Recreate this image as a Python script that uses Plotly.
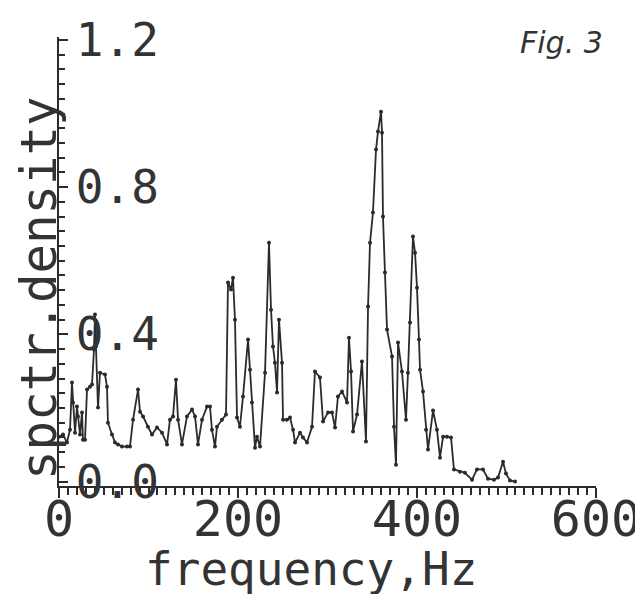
import plotly.graph_objects as go

# Frequency (Hz) and spectral density
frequency = [0, 4.5, 8.9, 12.3, 14.5, 15.6, 17.9, 20.1, 21.2, 23.5, 25.7, 26.8, 29.1, 31.3, 34.6,
             36.9, 39.1, 40.2, 41.3, 43.6, 45.8, 51.4, 53.6, 54.7, 59.2, 62.6, 65.9, 70.4, 76.0,
             79.3, 82.7, 88.3, 90.5, 93.9, 99.4, 103.9, 109.5, 115.1, 120.7, 124.0, 127.4, 130.7,
             133.0, 137.4, 143.0, 148.6, 152.0, 155.3, 159.8, 165.4, 168.7, 170.9, 174.3, 176.5,
             182.1, 186.6, 188.8, 192.2, 194.4, 196.6, 198.9, 202.2, 205.6, 211.2, 213.4, 215.6,
             219.0, 221.2, 224.6, 230.2, 234.6, 236.9, 239.1, 241.3, 243.6, 245.8, 249.2, 250.3,
             254.7, 258.1, 261.5, 263.7, 269.3, 272.6, 277.1, 282.7, 286.0, 291.6, 295.0, 300.6,
             305.0, 308.4, 311.7, 316.2, 321.8, 324.0, 326.3, 328.5, 333.0, 338.5, 343.0, 345.3,
             347.5, 350.8, 354.2, 356.4, 359.8, 360.9, 362.0, 364.2, 366.5, 372.1, 374.3, 376.5,
             378.8, 383.2, 387.7, 389.9, 392.2, 395.5, 397.8, 400.0, 402.2, 403.4, 406.7, 410.1,
             412.3, 417.9, 422.3, 425.7, 429.1, 433.5, 438.0, 441.3, 448.0, 453.6, 461.5, 467.0,
             473.7, 479.3, 486.0, 490.5, 496.1, 499.4, 503.9, 509.5]
density = [0.122, 0.128, 0.106, 0.141, 0.269, 0.215, 0.133, 0.204, 0.177, 0.128, 0.188, 0.114,
           0.114, 0.250, 0.258, 0.264, 0.359, 0.454, 0.367, 0.201, 0.296, 0.291, 0.258, 0.160,
           0.128, 0.106, 0.101, 0.095, 0.095, 0.095, 0.168, 0.250, 0.190, 0.177, 0.149, 0.128,
           0.147, 0.133, 0.101, 0.168, 0.177, 0.277, 0.168, 0.101, 0.177, 0.196, 0.177, 0.101,
           0.168, 0.204, 0.204, 0.141, 0.095, 0.149, 0.168, 0.182, 0.541, 0.522, 0.554, 0.440,
           0.174, 0.149, 0.231, 0.386, 0.304, 0.215, 0.092, 0.122, 0.095, 0.296, 0.649, 0.467,
           0.367, 0.323, 0.242, 0.440, 0.323, 0.168, 0.168, 0.174, 0.141, 0.106, 0.133, 0.120,
           0.106, 0.149, 0.299, 0.283, 0.163, 0.188, 0.188, 0.147, 0.231, 0.245, 0.215, 0.391,
           0.299, 0.136, 0.182, 0.326, 0.109, 0.476, 0.649, 0.731, 0.902, 0.951, 1.005, 0.948,
           0.720, 0.568, 0.413, 0.340, 0.149, 0.046, 0.378, 0.299, 0.168, 0.296, 0.432, 0.666,
           0.622, 0.527, 0.386, 0.304, 0.245, 0.141, 0.087, 0.193, 0.141, 0.065, 0.122, 0.122,
           0.120, 0.033, 0.027, 0.024, 0.005, 0.033, 0.033, 0.008, 0.005, 0.011, 0.054, 0.022,
           0.003, 0.0]

x_ticks = [0, 200, 400, 600]
y_ticks = [0.0, 0.4, 0.8, 1.2]
y_tick_labels = ["0.0", "0.4", "0.8", "1.2"]

ink = "#2b2b2b"
text_ink = "#333333"
mono = "DejaVu Sans Mono"

fig = go.Figure()
fig.add_trace(go.Scatter(
    x=frequency, y=density, mode="lines+markers",
    line=dict(color=ink, width=1.8),
    marker=dict(color=ink, size=4),
    showlegend=False, cliponaxis=False,
))

fig.update_layout(
    width=635, height=594,
    margin=dict(l=59, r=39, t=37, b=108),
    paper_bgcolor="white", plot_bgcolor="white",
    font=dict(family=mono, color=text_ink),
)

fig.update_xaxes(
    range=[0, 600], tickvals=x_ticks, ticktext=[str(v) for v in x_ticks],
    automargin=False, ticklabeloverflow="allow", ticklabelstandoff=-22,
    showgrid=False, zeroline=False,
    showline=True, linecolor=ink, linewidth=2,
    ticks="outside", ticklen=10, tickwidth=2, tickcolor=ink,
    minor=dict(dtick=10, ticks="outside", ticklen=7, tickwidth=1.5, tickcolor=ink),
    tickfont=dict(family=mono, size=50, color=text_ink),
)

fig.update_yaxes(
    range=[-0.012, 1.208], tickvals=y_ticks, ticktext=y_tick_labels,
    automargin=False, ticklabeloverflow="allow", ticklabelstandoff=14,
    showgrid=False, zeroline=False,
    showline=True, linecolor=ink, linewidth=2,
    ticks="inside", ticklen=9, tickwidth=2, tickcolor=ink,
    minor=dict(dtick=0.04, ticks="inside", ticklen=6, tickwidth=1.5, tickcolor=ink),
    ticklabelposition="inside",
    tickfont=dict(family=mono, size=46, color=text_ink),
)

fig.add_annotation(
    text="frequency,Hz", xref="paper", yref="paper",
    x=0.47, y=-0.184, xanchor="center", yanchor="middle",
    showarrow=False, font=dict(family=mono, size=46, color=text_ink),
)

fig.add_annotation(
    text="spctr.density", xref="paper", yref="paper",
    x=-0.036, y=0.44, xanchor="center", yanchor="middle", textangle=-90,
    showarrow=False, font=dict(family=mono, size=49, color=text_ink),
)

fig.add_annotation(
    text="<i>Fig. 3</i>", xref="paper", yref="paper",
    x=0.935, y=0.987, xanchor="center", yanchor="middle",
    showarrow=False, font=dict(family="DejaVu Sans", size=30, color=text_ink),
)

fig.write_html(
    "out.html",
    config={"displayModeBar": False},
    post_script="document.body.style.margin='0';document.body.style.overflow='hidden';",
)
